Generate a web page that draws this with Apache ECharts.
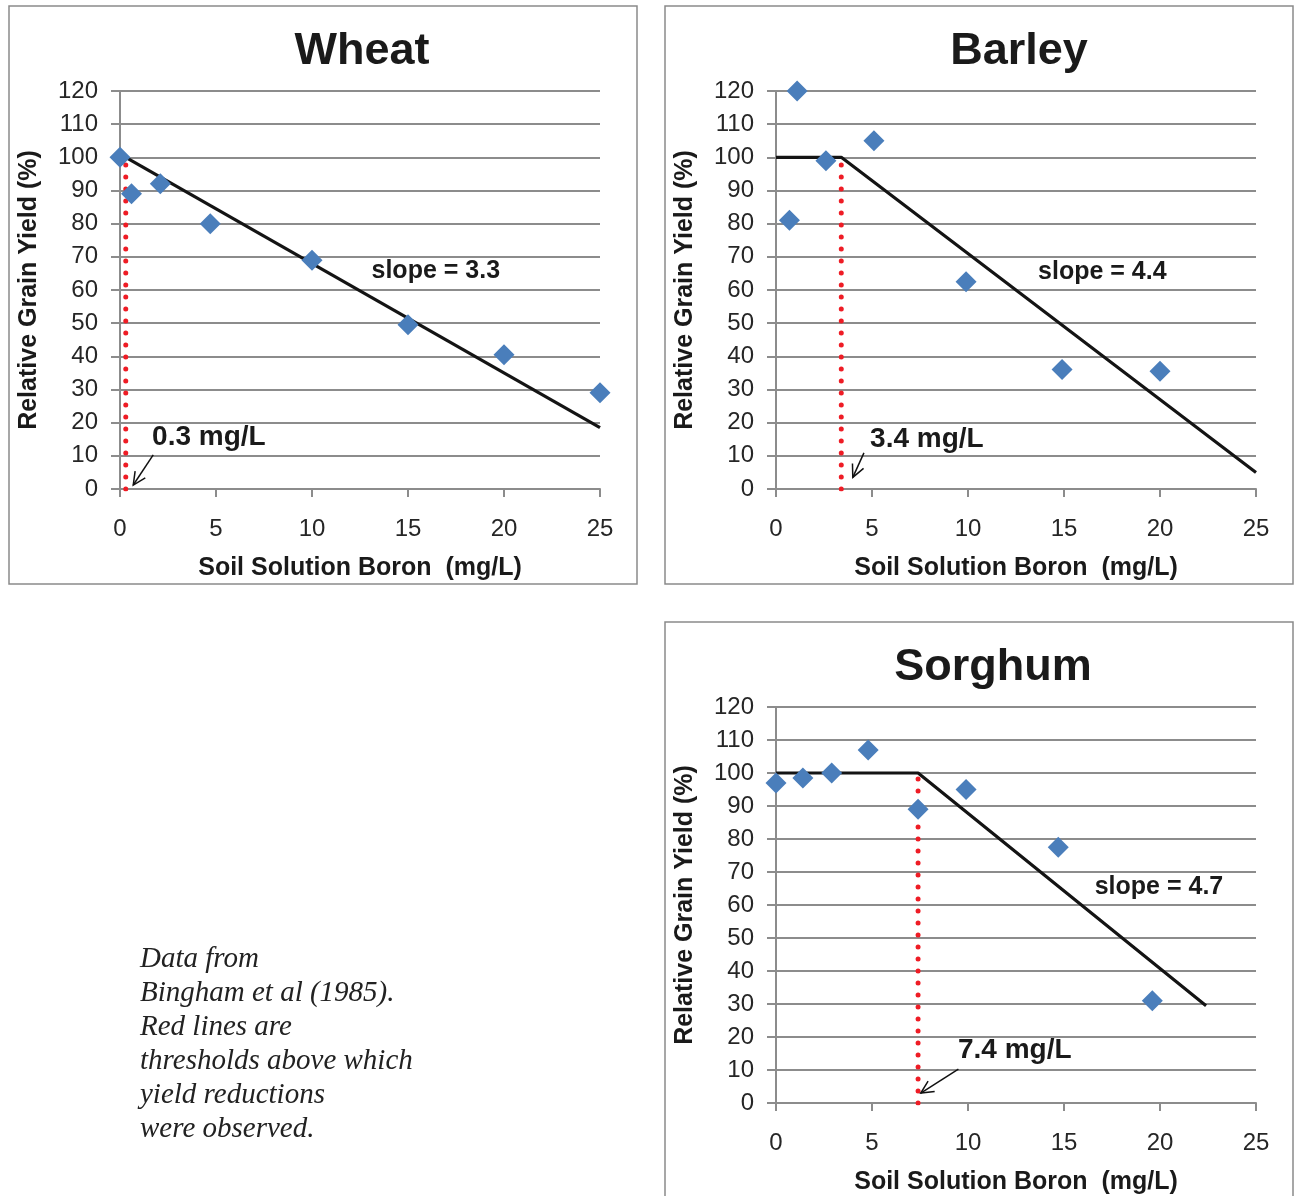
<!DOCTYPE html>
<html>
<head>
<meta charset="utf-8">
<script src="https://cdn.jsdelivr.net/npm/echarts@6/dist/echarts.min.js"></script>
<style>
  html, body { margin: 0; padding: 0; background: #ffffff; }
  #chart { width: 1294px; height: 1196px; }
</style>
</head>
<body>
<div id="chart"></div>
<script>
// ---------- data ----------
const panelTitles = ['Wheat', 'Barley', 'Sorghum'];
const xTicks = [0, 5, 10, 15, 20, 25];
const yTicks = [0, 10, 20, 30, 40, 50, 60, 70, 80, 90, 100, 110, 120];

const wheatX = [0, 0.6, 2.1, 4.7, 10, 15, 20, 25];
const wheatY = [100, 89, 92, 80, 69, 49.5, 40.5, 29];
const barleyX = [0.7, 1.1, 2.6, 5.1, 9.9, 14.9, 20];
const barleyY = [81, 120, 99, 105, 62.5, 36, 35.5];
const sorghumX = [0, 1.4, 2.9, 4.8, 7.4, 9.9, 14.7, 19.6];
const sorghumY = [97, 98.5, 100, 107, 89, 95, 77.5, 31];

// fitted threshold-slope models
const wheatFitX = [0.3, 25];
const wheatFitY = [100, 18.5];
const barleyFitX = [0, 3.4, 25];
const barleyFitY = [100, 100, 5];
const sorghumFitX = [0, 7.4, 22.4];
const sorghumFitY = [100, 100, 29.5];

const thresholds = [0.3, 3.4, 7.4];
const thresholdLabels = ['0.3 mg/L', '3.4 mg/L', '7.4 mg/L'];
const slopeLabels = ['slope = 3.3', 'slope = 4.4', 'slope = 4.7'];
// annotation anchors in data units [x, y]
const thresholdLabelPos = [[1.67, 15.7], [4.9, 15.1], [9.48, 16.0]];
const slopeLabelPos = [[13.1, 65.7], [13.65, 65.4], [16.6, 65.4]];
// arrows [fromX, fromY, toX, toY]
const arrows = [[1.73, 10.3, 0.69, 1.2], [4.58, 10.9, 4.0, 3.5], [9.5, 10.3, 7.54, 3.0]];

const noteLines = ['Data from', 'Bingham et al (1985).', 'Red lines are', 'thresholds above which', 'yield reductions', 'were observed.'];
const xName = 'Soil Solution Boron  (mg/L)';
const yName = 'Relative Grain Yield (%)';

// ---------- styling ----------
const FONT = '"Liberation Sans", Arial, sans-serif';
const GRID_COLOR = '#8c8c8c';
const TEXT_COLOR = '#262626';
const BLUE = '#4a7ebb';
const RED = '#ee1c25';

const grids = [
  { left: 120, top: 91, width: 480, height: 398 },
  { left: 776, top: 91, width: 480, height: 398 },
  { left: 776, top: 707, width: 480, height: 398 }
];
const titleCenters = [[362, 24], [1019, 24], [993, 640]];
const boxes = [[9, 6, 628, 578], [665, 6, 628, 578], [665, 622, 628, 600]];

const zip = (xs, ys) => xs.map((x, i) => [x, ys[i]]);
const pointsSets = [zip(wheatX, wheatY), zip(barleyX, barleyY), zip(sorghumX, sorghumY)];
const fitSets = [zip(wheatFitX, wheatFitY), zip(barleyFitX, barleyFitY), zip(sorghumFitX, sorghumFitY)];

const xAxes = [], yAxes = [], series = [], titles = [];
for (let i = 0; i < 3; i++) {
  titles.push({
    text: panelTitles[i], left: titleCenters[i][0] - 5, top: titleCenters[i][1], textAlign: 'center',
    textStyle: { fontFamily: FONT, fontSize: 45, fontWeight: 'bold', color: '#1a1a1a' }
  });
  xAxes.push({
    gridIndex: i, type: 'value', min: xTicks[0], max: xTicks[xTicks.length - 1], interval: 5,
    name: xName, nameLocation: 'middle', nameGap: 67,
    nameTextStyle: { fontFamily: FONT, fontSize: 25, fontWeight: 'bold', color: '#1a1a1a' },
    axisLine: { show: true, lineStyle: { color: GRID_COLOR, width: 2 } },
    axisTick: { show: true, length: 8, lineStyle: { color: GRID_COLOR, width: 2 } },
    axisLabel: { margin: 28, fontFamily: FONT, fontSize: 24, color: TEXT_COLOR },
    splitLine: { show: false }
  });
  yAxes.push({
    gridIndex: i, type: 'value', min: yTicks[0], max: yTicks[yTicks.length - 1], interval: 10,
    name: yName, nameLocation: 'middle', nameGap: 78, nameRotate: 90,
    nameTextStyle: { fontFamily: FONT, fontSize: 25, fontWeight: 'bold', color: '#1a1a1a' },
    axisLine: { show: true, lineStyle: { color: GRID_COLOR, width: 2 } },
    axisTick: { show: true, length: 9, lineStyle: { color: GRID_COLOR, width: 2 } },
    axisLabel: { margin: 22, fontFamily: FONT, fontSize: 24, color: TEXT_COLOR },
    splitLine: { show: true, lineStyle: { color: GRID_COLOR, width: 2 } }
  });
  // red threshold line
  series.push({
    type: 'line', xAxisIndex: i, yAxisIndex: i, z: 3,
    data: [[thresholds[i], 0], [thresholds[i], 100]],
    symbol: 'none', silent: true,
    lineStyle: { color: RED, width: 5, type: [0.1, 11.9], cap: 'round' }
  });
  // fit line
  series.push({
    type: 'line', xAxisIndex: i, yAxisIndex: i, z: 4,
    data: fitSets[i], symbol: 'none', silent: true,
    lineStyle: { color: '#141414', width: 3.2 }
  });
  // observations
  series.push({
    type: 'scatter', xAxisIndex: i, yAxisIndex: i, z: 5,
    data: pointsSets[i], symbol: 'diamond', symbolSize: 21,
    itemStyle: { color: BLUE, opacity: 1 }
  });
  // arrow
  series.push({
    type: 'custom', xAxisIndex: i, yAxisIndex: i, z: 6, silent: true,
    data: [arrows[i]],
    encode: { x: [0, 2], y: [1, 3] },
    renderItem: function (params, api) {
      const p1 = api.coord([api.value(0), api.value(1)]);
      const p2 = api.coord([api.value(2), api.value(3)]);
      const dx = p2[0] - p1[0], dy = p2[1] - p1[1];
      const len = Math.sqrt(dx * dx + dy * dy);
      const ux = dx / len, uy = dy / len;
      const L = 14, a = 0.45;
      const rot = (c, s) => [ux * c - uy * s, ux * s + uy * c];
      const r1 = rot(Math.cos(a), Math.sin(a)), r2 = rot(Math.cos(-a), Math.sin(-a));
      const h1 = [p2[0] - L * r1[0], p2[1] - L * r1[1]];
      const h2 = [p2[0] - L * r2[0], p2[1] - L * r2[1]];
      return {
        type: 'group', children: [
          { type: 'line', shape: { x1: p1[0], y1: p1[1], x2: p2[0], y2: p2[1] }, style: { stroke: '#111', lineWidth: 1.5 } },
          { type: 'polyline', shape: { points: [h1, p2, h2] }, style: { stroke: '#111', lineWidth: 1.5, fill: null } }
        ]
      };
    }
  });
  // annotations
  const labelData = [thresholdLabelPos[i], slopeLabelPos[i]];
  const labelTexts = [thresholdLabels[i], slopeLabels[i]];
  const labelSizes = [28, 25];
  series.push({
    type: 'custom', xAxisIndex: i, yAxisIndex: i, z: 7, silent: true,
    data: labelData,
    renderItem: function (params, api) {
      const p = api.coord([api.value(0), api.value(1)]);
      return {
        type: 'text', x: p[0], y: p[1],
        style: {
          text: labelTexts[params.dataIndex], fill: '#1a1a1a',
          font: 'bold ' + labelSizes[params.dataIndex] + 'px ' + FONT,
          align: 'left', verticalAlign: 'middle'
        }
      };
    }
  });
}

const graphics = boxes.map(b => ({
  type: 'rect', z: -1, silent: true,
  shape: { x: b[0], y: b[1], width: b[2], height: b[3] },
  style: { fill: 'none', stroke: '#8a8a8a', lineWidth: 1.5 }
}));
graphics.push({
  type: 'text', left: 140, top: 942, silent: true,
  style: {
    text: noteLines.join('\n'), fill: '#222',
    font: 'italic 29px "Liberation Serif", "Times New Roman", serif',
    lineHeight: 34
  }
});

const chart = echarts.init(document.getElementById('chart'), null, { renderer: 'canvas' });
chart.setOption({
  animation: false,
  backgroundColor: '#ffffff',
  title: titles,
  grid: grids,
  xAxis: xAxes,
  yAxis: yAxes,
  series: series,
  graphic: graphics
});
</script>
</body>
</html>
